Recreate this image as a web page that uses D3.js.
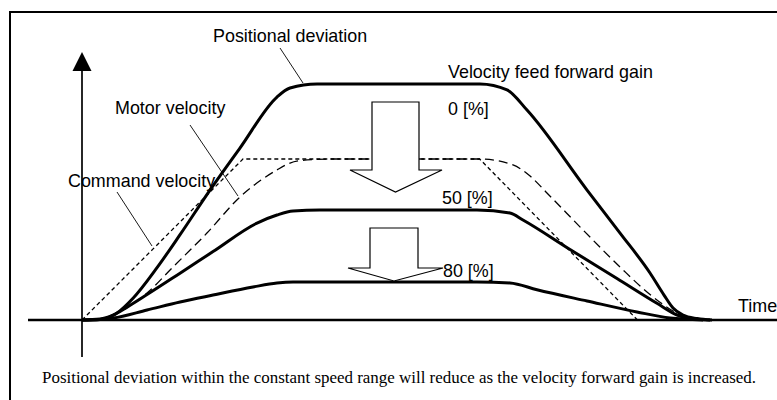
<!DOCTYPE html>
<html>
<head>
<meta charset="utf-8">
<script src="https://cdn.jsdelivr.net/npm/d3@7"></script>
<style>
  html, body { margin: 0; padding: 0; background: #fff; }
  svg { display: block; }
  .lbl { font-family: "Liberation Sans", Arial, Helvetica, sans-serif; font-size: 17.9px; fill: #000; }
  .cap { font-family: "Liberation Serif", "Times New Roman", Times, serif; font-size: 16.95px; fill: #000; }
</style>
</head>
<body>
<svg id="chart" width="777" height="400"></svg>
<script>
// Time in ms, velocity / deviation in % of the commanded speed.
const commandVelocity = [[0, 0], [100, 100], [247, 100], [345, 0]];

const motorVelocity = [
  [0, 0], [11.2, 0.6], [25.5, 6.2], [40.4, 16.8], [56.5, 32.9], [77.6, 54.0],
  [98.1, 76.4], [121.1, 93.2], [129.2, 97.5], [139.8, 99.4], [155.9, 100],
  [247.2, 100], [267.7, 96.3], [278.3, 89.4], [288.8, 78.9], [311.2, 55.9],
  [334.2, 32.9], [354.7, 14.3], [369.6, 4.3], [377.6, 1.2], [385.7, 0]
];

// Positional deviation for each velocity feed forward gain
const gainLabels = ["0 [%]", "50 [%]", "80 [%]"];

const deviationGain0 = [
  [0, 0], [11.2, 0.3], [21.7, 4.3], [31.7, 13.5], [46.6, 32.5], [60.9, 53.0],
  [79.5, 80.7], [98.1, 106.8], [121.1, 138.5], [129.2, 144.1], [146, 146.6],
  [247.2, 146.6], [264, 142.9], [276.4, 130.4], [313.7, 80.7], [334.2, 54.0],
  [352.8, 29.2], [361.5, 15.5], [367.1, 7.5], [373.3, 3.1], [382, 0.9], [391.3, 0]
];

const deviationGain50 = [
  [0, 0], [11.2, 0.6], [19.3, 3.0], [28, 8.0], [40.4, 15.8], [60.9, 29.1],
  [81.4, 42.5], [108.7, 60.2], [121.1, 65.2], [131.1, 67.7], [147.8, 68.3],
  [245.3, 68.3], [265.8, 66.5], [273.9, 62.1], [303.1, 43.8], [332.3, 25.8],
  [357.1, 10.4], [369.6, 3.1], [377.6, 0.9], [390.1, 0]
];

const deviationGain80 = [
  [0, 0], [11.2, 0.3], [19.3, 1.2], [40.4, 6.2], [60.9, 11.2], [81.4, 15.5],
  [106.2, 20.5], [121.1, 23.0], [131.1, 23.6], [147.8, 23.6], [245.3, 23.6],
  [265.8, 23.0], [282.6, 18.8], [313.7, 11.8], [344.7, 5.0], [365.2, 1.2], [385.7, 0]
];

const svg = d3.select("#chart");

// Scales: origin of the plot at (82, 320)
const x = d3.scaleLinear().domain([0, 100]).range([82, 243]);
const y = d3.scaleLinear().domain([0, 100]).range([320, 159]);

// Outer frame (open to the right and bottom)
svg.append("path")
  .attr("d", "M10,400 L10,12 L777,12")
  .attr("fill", "none").attr("stroke", "#000").attr("stroke-width", 2);

// Axes
svg.append("line")
  .attr("x1", 28).attr("x2", 777).attr("y1", y(0)).attr("y2", y(0))
  .attr("stroke", "#000").attr("stroke-width", 2.6);
svg.append("line")
  .attr("x1", x(0)).attr("x2", x(0)).attr("y1", 357).attr("y2", 66)
  .attr("stroke", "#000").attr("stroke-width", 1.7);
svg.append("path")
  .attr("d", `M${x(0)},52 L${x(0) - 9.5},71 L${x(0) + 9.5},71 Z`)
  .attr("fill", "#000");

const smooth = d3.line().x(d => x(d[0])).y(d => y(d[1])).curve(d3.curveMonotoneX);
const straight = d3.line().x(d => x(d[0])).y(d => y(d[1]));

// Command velocity (short dashes)
svg.append("path").datum(commandVelocity)
  .attr("d", straight).attr("fill", "none").attr("stroke", "#000")
  .attr("stroke-width", 1.3).attr("stroke-dasharray", "4,3");

// Motor velocity (long dashes)
svg.append("path").datum(motorVelocity)
  .attr("d", smooth).attr("fill", "none").attr("stroke", "#000")
  .attr("stroke-width", 1.3).attr("stroke-dasharray", "9,5");

// Positional deviation curves
[deviationGain80, deviationGain50, deviationGain0].forEach(series => {
  svg.append("path").datum(series)
    .attr("d", smooth).attr("fill", "none").attr("stroke", "#000")
    .attr("stroke-width", 3).attr("stroke-linejoin", "round");
});

// Block arrows showing the reduction as the gain increases
function blockArrow(cx, top, wingY, tipY, shaftHalf, wingLeft, wingRight) {
  return `M${cx - shaftHalf},${top} L${cx + shaftHalf},${top} L${cx + shaftHalf},${wingY}
          L${wingRight},${wingY} L${cx},${tipY} L${wingLeft},${wingY}
          L${cx - shaftHalf},${wingY} Z`;
}
svg.append("path")
  .attr("d", blockArrow(395.5, 102, 170, 192, 23.5, 350, 442))
  .attr("fill", "#fff").attr("stroke", "#000").attr("stroke-width", 1.2);
svg.append("path")
  .attr("d", blockArrow(394, 228, 268, 281, 24, 348, 443))
  .attr("fill", "#fff").attr("stroke", "#000").attr("stroke-width", 1.2);

// Leader lines
const leaders = [
  [280, 48, 303, 83],
  [190, 125, 238, 196],
  [117, 192, 152, 246]
];
leaders.forEach(l => {
  svg.append("line")
    .attr("x1", l[0]).attr("y1", l[1]).attr("x2", l[2]).attr("y2", l[3])
    .attr("stroke", "#000").attr("stroke-width", 0.9);
});

// Text labels
const labels = [
  ["Positional deviation", 213, 42],
  ["Velocity feed forward gain", 448, 78],
  [gainLabels[0], 448, 115],
  ["Motor velocity", 115, 114],
  ["Command velocity", 68, 187],
  [gainLabels[1], 442, 204],
  [gainLabels[2], 443, 277],
  ["Time", 738, 312]
];
labels.forEach(t => {
  svg.append("text").attr("class", "lbl")
    .attr("x", t[1]).attr("y", t[2]).text(t[0]);
});

svg.append("text").attr("class", "cap")
  .attr("x", 42).attr("y", 383)
  .text("Positional deviation within the constant speed range will reduce as the velocity forward gain is increased.");
</script>
</body>
</html>
